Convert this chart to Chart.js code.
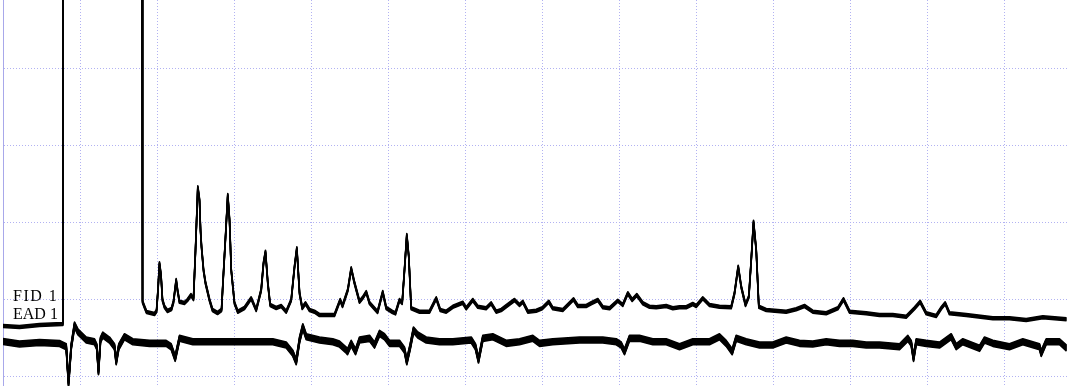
<!DOCTYPE html>
<html>
<head>
<meta charset="utf-8">
<script src="https://cdn.jsdelivr.net/npm/chart.js@4/dist/chart.umd.min.js"></script>
<style>
  html, body { margin:0; padding:0; background:#fff; }
  #wrap { position:relative; width:1067px; height:386px; }
  .lbl { position:absolute; left:13px; font:16px/16px "Liberation Serif", serif; color:#000; white-space:pre; }
</style>
</head>
<body>
<div id="wrap">
  <canvas id="ch"></canvas>
  <div class="lbl" style="top:288px;letter-spacing:1.5px">FID 1</div>
  <div class="lbl" style="top:306px">EAD 1</div>
</div>
<script>
// ---- datos (tiempo en min, señal en mV)
const fidT = [0,0.214,0.474,0.770,0.777,0.778,1.806,1.812,1.838,1.864,1.903,1.968,1.994,2.013,2.032,2.052,2.071,2.097,2.136,2.188,
  2.214,2.249,2.266,2.292,2.357,2.396,2.442,2.474,2.500,2.530,2.552,2.565,2.578,2.604,2.630,2.682,2.721,2.786,2.838,2.855,
  2.890,2.919,2.942,2.964,3.006,3.049,3.136,3.223,3.288,3.353,3.383,3.409,3.439,3.470,3.548,3.613,3.678,3.743,3.786,3.816,
  3.851,3.886,3.929,3.981,4.045,4.110,4.305,4.379,4.409,4.478,4.522,4.565,4.630,4.669,4.717,4.760,4.864,4.932,4.977,5.058,
  5.097,5.149,5.184,5.214,5.244,5.270,5.301,5.409,5.539,5.626,5.678,5.756,5.842,5.971,6.016,6.101,6.166,6.275,6.340,6.405,
  6.470,6.556,6.643,6.708,6.751,6.816,6.925,7.003,7.088,7.140,7.270,7.335,7.409,7.465,7.574,7.639,7.725,7.790,7.877,7.984,
  8.049,8.114,8.171,8.231,8.309,8.396,8.483,8.613,8.699,8.786,8.873,8.958,9.003,9.088,9.175,9.305,9.457,9.500,9.548,9.587,
  9.643,9.686,9.717,9.747,9.782,9.816,9.912,10.171,10.301,10.409,10.517,10.691,10.842,10.916,10.994,11.210,11.383,11.556,11.730,11.838,
  11.912,11.990,12.119,12.184,12.236,12.292,12.509,12.855,13.071,13.288,13.504,13.812];
const fid = [0.656,0.643,0.669,0.682,0.734,6,6,0.971,0.903,0.838,0.829,0.812,0.851,1.123,1.470,1.318,0.994,0.906,0.851,0.877,
  0.968,1.253,1.123,0.971,0.955,0.994,1.058,1.006,1.643,2.457,2.292,1.903,1.686,1.383,1.214,0.994,0.864,0.825,0.864,1.188,
  1.816,2.357,2.032,1.383,0.955,0.842,0.890,1.016,0.864,1.123,1.470,1.621,1.214,0.929,0.890,0.916,0.842,0.994,1.426,1.665,
  1.084,0.890,0.951,0.864,0.842,0.799,0.799,0.994,0.916,1.123,1.405,1.214,0.971,1.019,1.097,0.955,0.838,1.097,0.890,0.838,
  0.821,0.994,0.955,1.383,1.838,1.556,0.886,0.842,0.842,1.016,0.864,0.842,0.906,0.958,0.886,0.994,0.906,0.886,0.951,0.842,
  0.864,0.929,0.994,0.929,0.971,0.842,0.855,0.886,0.971,0.886,0.864,0.929,1.003,0.916,0.916,0.951,0.994,0.899,0.886,0.984,
  0.929,1.081,0.994,1.058,0.951,0.906,0.899,0.916,0.886,0.899,0.899,0.942,0.916,1.016,0.929,0.906,0.899,1.081,1.426,1.166,
  0.929,1.036,1.513,2.010,1.643,0.906,0.864,0.842,0.873,0.916,0.842,0.821,0.886,1.003,0.842,0.821,0.799,0.799,0.777,0.886,
  0.971,0.821,0.786,0.886,0.951,0.821,0.799,0.756,0.756,0.734,0.769,0.743];

const eadT = [0,0.214,0.474,0.734,0.821,0.851,0.886,0.929,0.971,1.081,1.188,1.218,1.240,1.266,1.296,1.383,1.448,1.470,1.504,1.578,
  1.686,1.903,2.119,2.184,2.236,2.292,2.465,2.725,2.984,3.244,3.504,3.678,3.764,3.808,3.851,3.894,3.938,4.110,4.283,4.370,
  4.457,4.474,4.522,4.578,4.630,4.760,4.825,4.890,4.955,5.019,5.149,5.214,5.244,5.288,5.331,5.387,5.496,5.669,5.842,6.081,
  6.136,6.175,6.231,6.361,6.535,6.708,6.881,6.968,7.140,7.487,7.790,7.964,8.029,8.071,8.136,8.266,8.439,8.613,8.786,8.958,
  9.175,9.305,9.392,9.470,9.522,9.652,9.825,9.997,10.171,10.344,10.517,10.691,10.864,11.036,11.210,11.383,11.643,11.751,11.795,11.825,
  11.860,11.990,12.162,12.314,12.379,12.465,12.682,12.747,12.855,13.071,13.244,13.461,13.483,13.548,13.721,13.812];
const ead = [0.455,0.422,0.442,0.429,0.387,-0.088,0.387,0.669,0.582,0.474,0.452,0.387,0.062,0.474,0.539,0.474,0.387,0.192,0.387,0.517,
  0.452,0.431,0.431,0.387,0.236,0.496,0.452,0.452,0.452,0.452,0.452,0.409,0.301,0.192,0.474,0.647,0.517,0.474,0.452,0.422,
  0.344,0.322,0.431,0.322,0.474,0.496,0.409,0.561,0.517,0.431,0.431,0.344,0.192,0.387,0.604,0.539,0.474,0.452,0.452,0.474,
  0.387,0.214,0.496,0.517,0.431,0.452,0.496,0.431,0.452,0.474,0.474,0.452,0.409,0.322,0.496,0.496,0.452,0.452,0.387,0.452,
  0.452,0.517,0.431,0.322,0.496,0.452,0.409,0.409,0.474,0.431,0.422,0.452,0.431,0.431,0.409,0.409,0.387,0.496,0.431,0.236,
  0.452,0.431,0.409,0.517,0.387,0.452,0.366,0.474,0.431,0.387,0.452,0.387,0.301,0.452,0.452,0.370];

// ejes: una division = 1 min / 1 mV
const xTicks = [0,1,2,3,4,5,6,7,8,9,10,11,12,13];
const yTicks = [0,1,2,3,4];

const pts = (t, v) => t.map((x, i) => ({ x, y: v[i] }));
const gridCol = '#b2b2f2';

// el ruido del detector engrosa la traza en vertical: se repinta la linea desplazada unos px
const smear = {
  id: 'smear',
  afterDatasetDraw(chart, args, opts) {
    const h = (opts.px || [])[args.index];
    if (!h) return;
    const { ctx, chartArea: a } = chart;
    ctx.save();
    ctx.beginPath(); ctx.rect(a.left, a.top, a.right - a.left, a.bottom - a.top); ctx.clip();
    for (let dy = -h; dy <= h; dy += 0.75) {
      if (!dy) continue;
      ctx.save(); ctx.translate(0, dy);
      args.meta.dataset.draw(ctx, a);
      ctx.restore();
    }
    ctx.restore();
  }
};

new Chart(document.getElementById('ch'), {
  type: 'line',
  data: {
    datasets: [
      { label:'FID 1', data: pts(fidT, fid), borderColor:'#000', borderWidth:1.6, borderJoinStyle:'round' },
      { label:'EAD 1', data: pts(eadT, ead), borderColor:'#000', borderWidth:1.6, borderJoinStyle:'round' }
    ]
  },
  plugins: [smear],
  options: {
    responsive:true, maintainAspectRatio:false, animation:false,
    layout:{ padding:{ left:3, right:0, top:0, bottom:0 } },
    elements:{ point:{ radius:0 }, line:{ tension:0 } },
    plugins:{ legend:{ display:false }, tooltip:{ enabled:false }, smear:{ px:[1.5, 3] } },
    scales:{
      x:{ type:'linear', min:0, max:13.818,
          afterBuildTicks: s => { s.ticks = xTicks.map(value => ({ value })); },
          afterFit: s => { s.height = 0; },
          ticks:{ display:false },
          grid:{ color:gridCol, lineWidth:1, drawTicks:false },
          border:{ display:false, dash:[1,2] } },
      y:{ type:'linear', min:-0.123, max:4.890,
          afterBuildTicks: s => { s.ticks = yTicks.map(value => ({ value })); },
          afterFit: s => { s.width = 0; },
          ticks:{ display:false },
          grid:{ color:gridCol, lineWidth:1, drawTicks:false },
          border:{ display:true, color:'#a8a8ea', width:1, dash:[1,2] } }
    }
  }
});
</script>
</body>
</html>
